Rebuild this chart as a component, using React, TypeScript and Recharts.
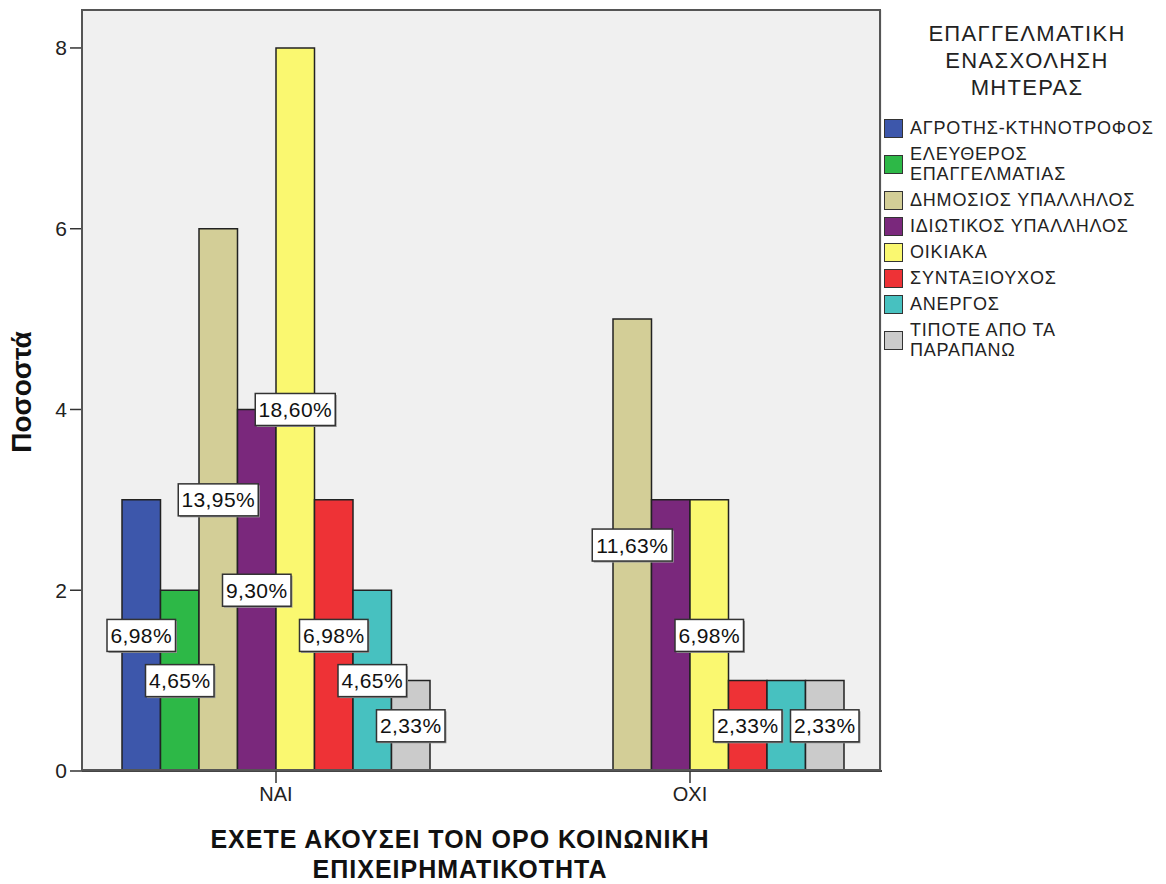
import React from "react";
import { BarChart, Bar, XAxis, YAxis, CartesianGrid, LabelList } from "recharts";

// --- data (counts, % of N=43) ---
const groups = ["ΝΑΙ", "ΟΧΙ"];

const seriesNames = [
  "ΑΓΡΟΤΗΣ-ΚΤΗΝΟΤΡΟΦΟΣ",
  "ΕΛΕΥΘΕΡΟΣ ΕΠΑΓΓΕΛΜΑΤΙΑΣ",
  "ΔΗΜΟΣΙΟΣ ΥΠΑΛΛΗΛΟΣ",
  "ΙΔΙΩΤΙΚΟΣ ΥΠΑΛΛΗΛΟΣ",
  "ΟΙΚΙΑΚΑ",
  "ΣΥΝΤΑΞΙΟΥΧΟΣ",
  "ΑΝΕΡΓΟΣ",
  "ΤΙΠΟΤΕ ΑΠΟ ΤΑ ΠΑΡΑΠΑΝΩ",
];

const legendLines = [
  ["ΑΓΡΟΤΗΣ-ΚΤΗΝΟΤΡΟΦΟΣ"],
  ["ΕΛΕΥΘΕΡΟΣ", "ΕΠΑΓΓΕΛΜΑΤΙΑΣ"],
  ["ΔΗΜΟΣΙΟΣ ΥΠΑΛΛΗΛΟΣ"],
  ["ΙΔΙΩΤΙΚΟΣ ΥΠΑΛΛΗΛΟΣ"],
  ["ΟΙΚΙΑΚΑ"],
  ["ΣΥΝΤΑΞΙΟΥΧΟΣ"],
  ["ΑΝΕΡΓΟΣ"],
  ["ΤΙΠΟΤΕ ΑΠΟ ΤΑ", "ΠΑΡΑΠΑΝΩ"],
];

const agrotis = [3, 0];
const eleftheros = [2, 0];
const dimosios = [6, 5];
const idiotikos = [4, 3];
const oikiaka = [8, 3];
const syntaxiouxos = [3, 1];
const anergos = [2, 1];
const tipote = [1, 1];

// percent labels as printed (empty = not shown in the original)
const agrotisLbl = ["6,98%", ""];
const eleftherosLbl = ["4,65%", ""];
const dimosiosLbl = ["13,95%", "11,63%"];
const idiotikosLbl = ["9,30%", ""];
const oikiakaLbl = ["18,60%", "6,98%"];
const syntaxiouxosLbl = ["6,98%", "2,33%"];
const anergosLbl = ["4,65%", ""];
const tipoteLbl = ["2,33%", "2,33%"];

const yTicks = [0, 2, 4, 6, 8];

const COLORS = ["#3D57AB", "#2DB847", "#D3CE97", "#7A287C", "#FAF870", "#EE3236", "#47C1C0", "#CBCBCB"];

const values = [agrotis, eleftheros, dimosios, idiotikos, oikiaka, syntaxiouxos, anergos, tipote];
const labels = [agrotisLbl, eleftherosLbl, dimosiosLbl, idiotikosLbl, oikiakaLbl, syntaxiouxosLbl, anergosLbl, tipoteLbl];

const data = groups.map((g, i) => {
  const row: Record<string, string | number> = { group: g };
  values.forEach((v, s) => {
    row[`s${s}`] = v[i];
    row[`l${s}`] = labels[s][i];
  });
  return row;
});

const FONT = "'Liberation Sans', Arial, sans-serif";

function BoxLabel(props: any) {
  const { value } = props;
  if (!value) return null;
  const vb = props.viewBox || {};
  const x = props.x ?? vb.x;
  const y = props.y ?? vb.y;
  const width = props.width ?? vb.width;
  const height = props.height ?? vb.height;
  const cx = x + width / 2;
  const cy = y + height / 2;
  const w = String(value).length * 11.5 + 11;
  const h = 32;
  return (
    <g>
      <rect x={cx - w / 2 + 1.5} y={cy - h / 2 + 1.5} width={w} height={h} fill="#9a9a9a" />
      <rect x={cx - w / 2} y={cy - h / 2} width={w} height={h} fill="#fff" stroke="#333" strokeWidth={1.5} />
      <text x={cx} y={cy + 7.5} textAnchor="middle" fontSize={21} letterSpacing={0.4} fontFamily={FONT} fill="#111">
        {value}
      </text>
    </g>
  );
}

export default function App() {
  return (
    <div style={{ position: "absolute", left: 0, top: 0, width: 1166, height: 884, background: "#fff", fontFamily: FONT, overflow: "hidden" }}>
      <BarChart
        width={1166}
        height={884}
        data={data}
        margin={{ top: 10, right: 284, left: 0, bottom: 83 }}
        barGap={0}
        barSize={38.5}
      >
        <CartesianGrid horizontal={false} vertical={false} fill="#F0F0F0" />
        <XAxis
          dataKey="group"
          padding={{ left: -13, right: -15 }}
          height={30}
          tickSize={12}
          tickMargin={4}
          axisLine={{ stroke: "#444", strokeWidth: 2 }}
          tickLine={{ stroke: "#333", strokeWidth: 1.5 }}
          tick={{ fontSize: 20, fill: "#222", fontFamily: FONT }}
        />
        <XAxis xAxisId="lbl" dataKey="group" padding={{ left: -13, right: -15 }} hide />
        <YAxis
          width={82}
          domain={[0, 8.42]}
          ticks={yTicks}
          allowDataOverflow
          tickSize={12}
          tickMargin={3}
          axisLine={{ stroke: "#444", strokeWidth: 2 }}
          tickLine={{ stroke: "#333", strokeWidth: 1.5 }}
          tick={{ fontSize: 21, fill: "#222", fontFamily: FONT }}
        />
        {seriesNames.map((n, s) => (
          <Bar
            key={n}
            dataKey={`s${s}`}
            name={n}
            fill={COLORS[s]}
            stroke="#222"
            strokeWidth={1.5}
            isAnimationActive={false}
          />
        ))}
        {seriesNames.map((n, s) => (
          <Bar
            key={`lbl-${n}`}
            xAxisId="lbl"
            dataKey={`s${s}`}
            fill="transparent"
            stroke="none"
            legendType="none"
            isAnimationActive={false}
          >
            <LabelList dataKey={`l${s}`} content={BoxLabel} />
          </Bar>
        ))}
      </BarChart>

      {/* plot frame */}
      <div
        style={{
          position: "absolute",
          left: 81,
          top: 9,
          width: 800,
          height: 762,
          border: "2px solid #555",
          boxSizing: "border-box",
          pointerEvents: "none",
        }}
      />

      {/* y axis title */}
      <div
        style={{
          position: "absolute",
          left: 22,
          top: 392,
          transform: "translate(-50%, -50%) rotate(-90deg)",
          fontSize: 28,
          fontWeight: "bold",
          color: "#111",
          whiteSpace: "nowrap",
        }}
      >
        Ποσοστά
      </div>

      {/* x axis title */}
      <div
        style={{
          position: "absolute",
          left: 110,
          width: 700,
          top: 824,
          textAlign: "center",
          fontSize: 25,
          fontWeight: "bold",
          lineHeight: "30px",
          letterSpacing: 1,
          color: "#111",
        }}
      >
        ΕΧΕΤΕ ΑΚΟΥΣΕΙ ΤΟΝ ΟΡΟ ΚΟΙΝΩΝΙΚΗ
        <br />
        ΕΠΙΧΕΙΡΗΜΑΤΙΚΟΤΗΤΑ
      </div>

      {/* legend */}
      <div style={{ position: "absolute", left: 884, top: 20, width: 282, color: "#222" }}>
        <div style={{ width: 286, textAlign: "center", fontSize: 22, lineHeight: "27px", letterSpacing: 1.3 }}>
          ΕΠΑΓΓΕΛΜΑΤΙΚΗ
          <br />
          ΕΝΑΣΧΟΛΗΣΗ
          <br />
          ΜΗΤΕΡΑΣ
        </div>
        <div style={{ marginTop: 17 }}>
          {legendLines.map((lines, s) => (
            <div key={s} style={{ display: "flex", alignItems: "center", marginBottom: 6 }}>
              <div
                style={{
                  width: 19,
                  height: 19,
                  background: COLORS[s],
                  border: "1.5px solid #333",
                  boxSizing: "border-box",
                  flexShrink: 0,
                }}
              />
              <div style={{ marginLeft: 7, fontSize: 18, lineHeight: "20px", letterSpacing: 0.8, whiteSpace: "nowrap" }}>
                {lines.map((t, k) => (
                  <div key={k}>{t}</div>
                ))}
              </div>
            </div>
          ))}
        </div>
      </div>
    </div>
  );
}
